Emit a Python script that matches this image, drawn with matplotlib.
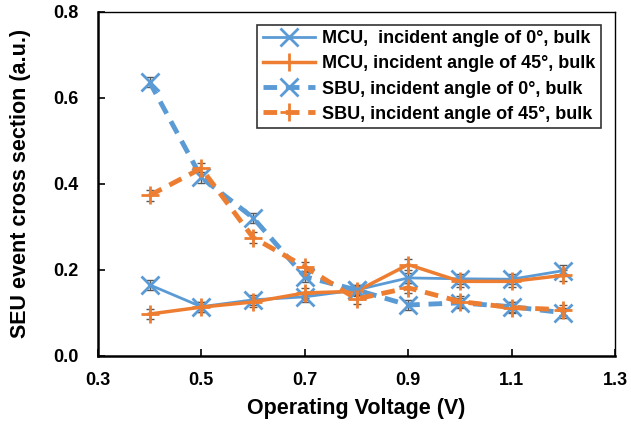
import matplotlib
matplotlib.use("Agg")
import matplotlib.pyplot as plt

plt.rcParams['font.family'] = ['Liberation Sans', 'DejaVu Sans']
plt.rcParams['font.weight'] = 'bold'

voltage = [0.4, 0.5, 0.6, 0.7, 0.8, 0.9, 1.0, 1.1, 1.2]

mcu_0 = [0.165, 0.114, 0.130, 0.137, 0.153, 0.181, 0.179, 0.178, 0.198]
mcu_45 = [0.097, 0.113, 0.125, 0.146, 0.150, 0.212, 0.173, 0.173, 0.187]
sbu_0 = [0.637, 0.415, 0.321, 0.184, 0.153, 0.118, 0.123, 0.114, 0.100]
sbu_45 = [0.373, 0.436, 0.275, 0.207, 0.132, 0.158, 0.126, 0.112, 0.107]

err = [0.012] * 9

labels = ["MCU,  incident angle of 0\u00b0, bulk",
          "MCU, incident angle of 45\u00b0, bulk",
          "SBU, incident angle of 0\u00b0, bulk",
          "SBU, incident angle of 45\u00b0, bulk"]

blue = "#5B9BD5"
orange = "#ED7D31"

fig = plt.figure(figsize=(6.31, 4.26), dpi=100)
ax = fig.add_axes([0.155, 0.165, 0.82, 0.807])

series = [
    (mcu_0, blue, "-", "x", 2.0, labels[0]),
    (mcu_45, orange, "-", "+", 2.5, labels[1]),
    (sbu_0, blue, (0, (2.8, 1.8)), "x", 3.5, labels[2]),
    (sbu_45, orange, (0, (2.8, 1.8)), "+", 3.5, labels[3]),
]
for vals, col, ls, mk, lw, lab in series:
    ax.errorbar(voltage, vals, yerr=err, fmt="none", ecolor="#595959",
                elinewidth=1, capsize=3, capthick=1, zorder=2)
    ax.plot(voltage, vals, color=col, linestyle=ls, linewidth=lw,
            marker=mk, markersize=13, markeredgewidth=2, label=lab, zorder=3)

ax.set_xlim(0.3, 1.3)
ax.set_ylim(0, 0.8)
ax.set_xticks([0.3, 0.5, 0.7, 0.9, 1.1, 1.3])
ax.set_yticks([0.0, 0.2, 0.4, 0.6, 0.8])
ax.xaxis.set_major_formatter(matplotlib.ticker.FormatStrFormatter('%.1f'))
ax.yaxis.set_major_formatter(matplotlib.ticker.FormatStrFormatter('%.1f'))
ax.tick_params(direction="in", length=5, width=1.2, labelsize=13)
ax.tick_params(axis="x", pad=12)
ax.tick_params(axis="y", pad=14)
for lab in ax.get_xticklabels() + ax.get_yticklabels():
    lab.set_fontweight('bold')

ax.spines['left'].set_linewidth(1.8)
ax.spines['bottom'].set_linewidth(1.8)
ax.spines['top'].set_linewidth(1.0)
ax.spines['right'].set_linewidth(1.0)

ax.set_xlabel("Operating Voltage (V)", fontsize=15.5, fontweight='bold', labelpad=6)
ax.set_ylabel("SEU event cross section (a.u.)", fontsize=15.5, fontweight='bold', labelpad=6)
ax.yaxis.set_label_coords(-0.13, 0.5)

leg = ax.legend(loc="upper right", fontsize=13, frameon=True, fancybox=False,
                edgecolor="black", handlelength=2.9, handletextpad=0.4,
                labelspacing=0.45, borderpad=0.3, borderaxespad=0.3,
                bbox_to_anchor=(0.983, 0.978))
leg.get_frame().set_linewidth(1.2)
for t in leg.get_texts():
    t.set_fontweight('bold')

fig.savefig("out.png", dpi=100)
